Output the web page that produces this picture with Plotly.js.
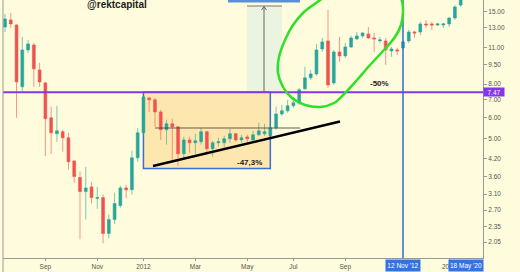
<!DOCTYPE html>
<html><head><meta charset="utf-8">
<script src="https://cdn.plot.ly/plotly-3.0.1.min.js"></script>
<style>html,body{margin:0;padding:0;background:#FEFCDC;}#c{width:520px;height:272px;}</style>
</head><body><div id="c"></div>
<script>
// Weekly candles (Mondays)
const weeks = ['2011-07-18','2011-07-25','2011-08-01','2011-08-08','2011-08-15','2011-08-22','2011-08-29','2011-09-05','2011-09-12','2011-09-19',
'2011-09-26','2011-10-03','2011-10-10','2011-10-17','2011-10-24','2011-10-31','2011-11-07','2011-11-14','2011-11-21','2011-11-28',
'2011-12-05','2011-12-12','2011-12-19','2011-12-26','2012-01-02','2012-01-09','2012-01-16','2012-01-23','2012-01-30','2012-02-06',
'2012-02-13','2012-02-20','2012-02-27','2012-03-05','2012-03-12','2012-03-19','2012-03-26','2012-04-02','2012-04-09','2012-04-16',
'2012-04-23','2012-04-30','2012-05-07','2012-05-14','2012-05-21','2012-05-28','2012-06-04','2012-06-11','2012-06-18','2012-06-25',
'2012-07-02','2012-07-09','2012-07-16','2012-07-23','2012-07-30','2012-08-06','2012-08-13','2012-08-20','2012-08-27','2012-09-03',
'2012-09-10','2012-09-17','2012-09-24','2012-10-01','2012-10-08','2012-10-15','2012-10-22','2012-10-29','2012-11-05','2012-11-12',
'2012-11-19','2012-11-26','2012-12-03','2012-12-10','2012-12-17','2012-12-24','2012-12-31','2013-01-07','2013-01-14','2013-01-21'];
const open  = [13.10,13.92,13.33,7.82,10.75,11.22,9.05,8.09,5.99,5.22, 5.31,5.04,4.13,3.58,3.17,3.30,2.99,3.01,2.21,2.49,
 2.81,3.27,3.22,4.24,5.26,7.11,6.99,6.30,5.40,5.69, 5.54,4.39,4.95,4.83,4.87,5.31,4.59,4.83,4.83,5.00,
 5.22,4.95,5.08,4.95,5.17,5.22,5.13,5.49,6.19,6.36, 6.64,6.82,7.69,8.45,8.74,10.84,11.62,8.09,10.57,10.21,
 11.03,11.82,12.13,12.34,11.92,11.62,11.62,10.66,10.75,10.94, 11.62,12.55,12.55,13.45,13.45,13.33,13.33,13.45,14.16,15.83];
const high  = [14.66,14.78,13.40,12.02,11.72,11.42,9.61,8.16,6.59,6.64, 5.40,5.26,4.15,3.77,3.92,3.45,3.30,3.09,2.60,3.14,
 3.33,3.36,4.51,5.49,7.24,7.17,7.11,6.41,5.89,5.94, 5.56,5.08,5.08,5.22,5.49,5.35,4.91,5.04,5.13,5.45,
 5.26,5.17,5.17,5.35,5.74,5.69,5.89,6.59,6.70,6.99, 7.17,7.75,9.29,9.05,11.32,11.92,15.17,10.75,12.02,11.42,
 12.13,12.55,12.55,13.10,12.44,12.02,11.92,11.03,10.94,11.72, 12.77,12.66,13.69,13.92,13.69,13.57,13.57,14.28,15.83,17.50];
const low   = [12.55,12.99,5.99,7.55,10.48,7.82,7.82,4.31,4.39,4.87, 4.47,3.83,3.42,2.10,2.49,2.86,2.73,2.03,2.12,2.40,
 2.76,2.99,3.09,4.10,5.17,6.30,5.54,4.95,4.75,4.17, 3.96,4.17,4.43,4.39,4.75,4.43,4.28,4.67,4.63,4.83,
 4.87,4.83,4.87,4.91,5.13,5.13,5.08,5.40,6.09,6.25, 6.53,6.70,7.62,8.30,8.60,10.57,7.75,7.95,9.70,10.04,
 10.94,11.72,11.92,11.82,10.57,11.42,9.45,10.13,10.30,10.75, 11.42,11.92,12.23,12.99,12.77,13.22,12.99,13.10,13.92,15.57];
const close = [14.04,13.45,8.16,10.75,11.32,9.13,8.16,5.94,5.26,5.35, 5.04,4.10,3.61,3.17,3.27,3.01,3.01,2.21,2.49,2.86,
 3.27,3.22,4.24,5.26,7.17,6.99,6.30,5.40,5.69,5.54, 4.39,4.95,4.83,4.91,5.31,4.59,4.83,4.87,5.00,5.22,
 4.95,5.04,5.00,5.17,5.35,5.31,5.49,6.19,6.36,6.64, 6.82,7.62,8.45,8.74,10.75,11.52,7.95,10.57,10.21,11.03,
 11.92,12.13,12.44,11.92,11.82,11.72,10.75,10.84,10.66,11.52, 12.55,12.44,13.45,13.33,13.33,13.45,13.45,14.16,15.57,17.20];

const timeTickVals = ['2011-09-05','2011-11-07','2012-01-02','2012-03-05','2012-05-07','2012-07-02','2012-09-03','2013-01-07'];
const timeTickText = ['Sep','Nov','2012','Mar','May','Jul','Sep','2013'];
const priceTicks = [15,13,11,9.5,8,7,6,5,4.2,3.6,3.1,2.7,2.35,2.05];
const priceTickText = priceTicks.map(v => v.toFixed(2));
const levelPrice = 7.47;
const markDate = '2012-11-12';
const boxStart = '2012-01-02', boxEnd = '2012-06-04', boxLow = 3.87;

// pixel -> paper helpers for freehand drawings
const L = 3, T = 0, W = 480, H = 258;
const px = x => (x - L) / W;
const py = y => 1 - (y - T) / H;

const BG = '#FEFCDC';
const trace = {
  type: 'candlestick', x: weeks, open: open, high: high, low: low, close: close,
  increasing: {line: {color: 'rgba(38,166,154,0.6)', width: 1}, fillcolor: '#26A69A'},
  decreasing: {line: {color: 'rgba(239,83,80,0.6)', width: 1}, fillcolor: '#EF5350'},
  hoverinfo: 'skip', showlegend: false
};

// green freehand loop (pixel points)
const loopPts = [[326,-4],[316,3],[304,12],[293,25],[285,40],[279,57],[278,73],[283,87],[292,98],[305,105],[320,107],
  [334,103],[345,93],[357,80],[370,65],[384,50],[395,37],[401,25],[403,12],[402,1],[399,-4]];
function catmull(pts){
  const p = pts.map(q => [px(q[0]), py(q[1])]);
  let d = 'M' + p[0][0] + ',' + p[0][1];
  for (let i = 0; i < p.length - 1; i++) {
    const p0 = p[Math.max(0,i-1)], p1 = p[i], p2 = p[i+1], p3 = p[Math.min(p.length-1,i+2)];
    const c1 = [p1[0] + (p2[0]-p0[0])/6, p1[1] + (p2[1]-p0[1])/6];
    const c2 = [p2[0] - (p3[0]-p1[0])/6, p2[1] - (p3[1]-p1[1])/6];
    d += ' C' + c1[0] + ',' + c1[1] + ' ' + c2[0] + ',' + c2[1] + ' ' + p2[0] + ',' + p2[1];
  }
  return d;
}

const shapes = [
  // orange range box
  {type:'rect', xref:'x', yref:'y', x0: boxStart, x1: boxEnd, y0: boxLow, y1: levelPrice,
   fillcolor:'rgba(255,185,80,0.32)', line:{color:'#3B6FD6', width:1.5}, layer:'below'},
  // measurement band
  {type:'rect', xref:'paper', yref:'paper', x0:px(247), x1:px(282), y0:py(93), y1:py(6),
   fillcolor:'rgba(200,225,235,0.35)', line:{width:0}, layer:'below'},
  {type:'line', xref:'paper', yref:'paper', x0:px(247), x1:px(282), y0:py(6), y1:py(6), line:{color:'#777', width:1}},
  {type:'line', xref:'paper', yref:'paper', x0:px(264), x1:px(264), y0:py(93), y1:py(6.5), line:{color:'#666', width:1}},
  {type:'path', xref:'paper', yref:'paper', path:'M'+px(261.5)+','+py(10)+' L'+px(264)+','+py(6.5)+' L'+px(266.5)+','+py(10), line:{color:'#666', width:1}},
  {type:'rect', xref:'paper', yref:'paper', x0:px(228), x1:px(300), y0:py(2.5), y1:py(-3), fillcolor:'#5B8DD9', line:{width:0}},
  // thin resistance line
  {type:'line', xref:'paper', yref:'paper', x0:px(155), x1:px(300), y0:py(128), y1:py(128), line:{color:'rgba(60,60,60,0.8)', width:1}},
  // level line
  {type:'line', xref:'paper', yref:'y', x0:0, x1:1, y0:levelPrice, y1:levelPrice, line:{color:'#8436E8', width:2}},
  // date marker
  {type:'line', xref:'x', yref:'paper', x0:markDate, x1:markDate, y0:0, y1:1, line:{color:'#2E6BD6', width:1.5}},
  // trend line
  {type:'line', xref:'paper', yref:'paper', x0:px(153), y0:py(166), x1:px(340), y1:py(121.5), line:{color:'#000', width:2.5}},
  // green loop
  {type:'path', xref:'paper', yref:'paper', path:catmull(loopPts), line:{color:'#2FE02A', width:2.5}},
  // left border
  {type:'line', xref:'paper', yref:'paper', x0:0, x1:0, y0:py(272), y1:1, line:{color:'#9a9a9a', width:1}}
];

const F = 'Liberation Sans, Arial, sans-serif';
const annotations = [
  {xref:'paper', yref:'paper', x:px(117), y:py(4.5), text:'<b>@rektcapital</b>', showarrow:false, xanchor:'center', yanchor:'middle', font:{family:F, size:10, color:'#1c1c1c'}},
  {xref:'paper', yref:'paper', x:px(250), y:py(162), text:'<b>-47,3%</b>', showarrow:false, xanchor:'center', yanchor:'middle', font:{family:F, size:8, color:'#1c1c1c'}},
  {xref:'paper', yref:'paper', x:px(379), y:py(83.5), text:'<b>-50%</b>', showarrow:false, xanchor:'center', yanchor:'middle', font:{family:F, size:8, color:'#1c1c1c'}},
  {xref:'paper', yref:'y', x:px(493.5), y:Math.log10(levelPrice), text:levelPrice.toFixed(2), showarrow:false, xanchor:'center', yanchor:'middle',
   width:20, height:8, borderpad:0, bgcolor:'#8436E8', font:{family:F, size:6.5, color:'#fff'}},
  {xref:'paper', yref:'paper', x:px(403), y:py(265), text:"12 Nov '12", showarrow:false, xanchor:'center', yanchor:'middle',
   width:34, height:11, borderpad:0, bgcolor:'#3574DB', font:{family:F, size:6.5, color:'#fff'}},
  {xref:'paper', yref:'paper', x:px(466), y:py(265), text:"18 May '20", showarrow:false, xanchor:'center', yanchor:'middle',
   width:34, height:11, borderpad:0, bgcolor:'#3574DB', font:{family:F, size:6.5, color:'#fff'}}
];

const layout = {
  width:520, height:272, margin:{l:L, r:520-L-W, t:T, b:272-T-H},
  paper_bgcolor:BG, plot_bgcolor:BG, showlegend:false,
  xaxis:{type:'date', range:['2011-07-15 13:40','2013-02-17 02:24'], tickvals:timeTickVals, ticktext:timeTickText,
    ticks:'outside', ticklen:2, tickcolor:'#999', showline:true, linecolor:'#999', linewidth:1, showgrid:false, zeroline:false,
    tickfont:{family:F, size:6.5, color:'#555'}, rangeslider:{visible:false}, fixedrange:true},
  yaxis:{type:'log', side:'right', range:[0.2524,1.2183], tickvals:priceTicks, ticktext:priceTickText,
    ticks:'outside', ticklen:3, tickcolor:'#999', showline:true, linecolor:'#999', linewidth:1, showgrid:false, zeroline:false,
    tickfont:{family:F, size:6.5, color:'#555'}, fixedrange:true},
  shapes:shapes, annotations:annotations
};
Plotly.newPlot('c', [trace], layout, {staticPlot:true, displayModeBar:false});
</script></body></html>
